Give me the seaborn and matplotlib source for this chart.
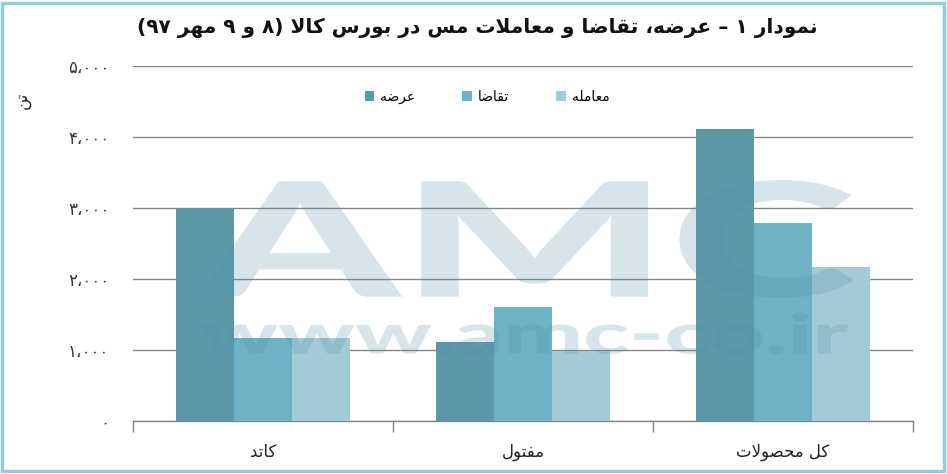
import numpy as np
import pandas as pd
import matplotlib
matplotlib.use('Agg')
import matplotlib.pyplot as plt
import seaborn as sns
from matplotlib.textpath import TextPath
from matplotlib.patches import PathPatch, Rectangle
from matplotlib.font_manager import FontProperties
from matplotlib.transforms import Affine2D

# chart data (logical Persian text)
title = 'نمودار ۱ – عرضه، تقاضا و معاملات مس در بورس کالا (۸ و ۹ مهر ۹۷)'
unit = 'تن'
categories = ['کاتد', 'مفتول', 'کل محصولات']
series = ['عرضه', 'تقاضا', 'معامله']
supply = [3000, 1110, 4110]
demand = [1165, 1605, 2785]
traded = [1165, 990, 2165]
yticks = [0, 1000, 2000, 3000, 4000, 5000]
ytick_labels = ['۰', '۱،۰۰۰', '۲،۰۰۰', '۳،۰۰۰', '۴،۰۰۰', '۵،۰۰۰']
colors = ['#5d98a8', '#6eb3c5', '#a3cbd6']

# matplotlib has no Arabic shaping, so do a small one by hand
FORMS = {  # isolated, final, initial, medial
    'ا': ('\uFE8D', '\uFE8E', None, None),
    'ب': ('\uFE8F', '\uFE90', '\uFE91', '\uFE92'),
    'ت': ('\uFE95', '\uFE96', '\uFE97', '\uFE98'),
    'ح': ('\uFEA1', '\uFEA2', '\uFEA3', '\uFEA4'),
    'د': ('\uFEA9', '\uFEAA', None, None),
    'ر': ('\uFEAD', '\uFEAE', None, None),
    'س': ('\uFEB1', '\uFEB2', '\uFEB3', '\uFEB4'),
    'ص': ('\uFEB9', '\uFEBA', '\uFEBB', '\uFEBC'),
    'ض': ('\uFEBD', '\uFEBE', '\uFEBF', '\uFEC0'),
    'ع': ('\uFEC9', '\uFECA', '\uFECB', '\uFECC'),
    'ف': ('\uFED1', '\uFED2', '\uFED3', '\uFED4'),
    'ق': ('\uFED5', '\uFED6', '\uFED7', '\uFED8'),
    'ل': ('\uFEDD', '\uFEDE', '\uFEDF', '\uFEE0'),
    'م': ('\uFEE1', '\uFEE2', '\uFEE3', '\uFEE4'),
    'ن': ('\uFEE5', '\uFEE6', '\uFEE7', '\uFEE8'),
    'ه': ('\uFEE9', '\uFEEA', '\uFEEB', '\uFEEC'),
    'و': ('\uFEED', '\uFEEE', None, None),
    'ک': ('\uFB8E', '\uFB8F', '\uFB90', '\uFB91'),
    'لا': ('\uFEFB', '\uFEFC', None, None),
}
MIRROR = {'(': ')', ')': '('}


def rtl(text):
    chars = []
    i = 0
    while i < len(text):
        if text[i] == 'ل' and i + 1 < len(text) and text[i + 1] == 'ا':
            chars.append('لا')
            i += 2
        else:
            chars.append(text[i])
            i += 1
    out = []
    for k, c in enumerate(chars):
        if c not in FORMS:
            out.append(MIRROR.get(c, c))
            continue
        prev = chars[k - 1] if k > 0 else None
        nxt = chars[k + 1] if k + 1 < len(chars) else None
        join_prev = prev in FORMS and FORMS[prev][2] is not None
        join_next = FORMS[c][2] is not None and nxt in FORMS
        iso, fin, ini, med = FORMS[c]
        if join_prev and join_next:
            out.append(med)
        elif join_prev:
            out.append(fin)
        elif join_next:
            out.append(ini)
        else:
            out.append(iso)
    # visual order: reverse, but keep digit runs left-to-right
    result, run = [], []
    for c in out[::-1]:
        if c.isdigit():
            run.append(c)
        else:
            result.extend(run[::-1])
            run = []
            result.append(c)
    result.extend(run[::-1])
    return ''.join(result)


W, H = 947, 474
plt.rcParams['font.family'] = ['DejaVu Sans']

df = pd.DataFrame({
    'cat': [rtl(c) for c in categories] * 3,
    'series': np.repeat([rtl(s) for s in series], len(categories)),
    'value': supply + demand + traded,
})

fig, ax = plt.subplots(figsize=(W / 100, H / 100), dpi=100)
fig.subplots_adjust(left=133 / W, right=913 / W, bottom=(H - 421) / H, top=(H - 66) / H)

sns.barplot(data=df, x='cat', y='value', hue='series', palette=colors,
            width=0.67, saturation=1, errorbar=None, ax=ax)
for p in ax.patches:
    p.set_zorder(3)

ax.set_xlim(-0.5, 2.5)
ax.set_ylim(0, 5000)
ax.set_yticks(yticks)
ax.set_yticklabels(ytick_labels, fontsize=12, color='#333333')
ax.tick_params(axis='y', length=0, pad=17)
ax.tick_params(axis='x', which='major', length=0, pad=16, labelsize=12, colors='#222222')
ax.set_xticks([-0.5, 0.5, 1.5, 2.5], minor=True)
ax.tick_params(axis='x', which='minor', length=8, color='#868686', width=1)
ax.set_xlabel('')
ax.set_ylabel('')
ax.grid(axis='y', color='#868686', linewidth=1, zorder=1)
ax.set_axisbelow(True)
for s in ['left', 'top', 'right']:
    ax.spines[s].set_visible(False)
ax.spines['bottom'].set_color('#868686')
ax.spines['bottom'].set_linewidth(1)

handles, labels = ax.get_legend_handles_labels()
ax.get_legend().remove()
fig.legend(handles, labels, loc='center', bbox_to_anchor=(487 / W, 1 - 97 / H),
           ncol=3, frameon=False, fontsize=10, handlelength=0.7, handleheight=0.7,
           handletextpad=0.4, columnspacing=3.4)

fig.text(477 / W, 1 - 28 / H, rtl(title), ha='center', va='center',
         fontsize=14.5, fontweight='bold', color='#111111')
fig.text(22 / W, 1 - 100 / H, rtl(unit), ha='center', va='center',
         rotation=90, fontsize=12, color='#222222')


# faint AMC watermark over the plot
def watermark(txt, box):
    tp = TextPath((0, 0), txt, size=1, prop=FontProperties(family='Lato', weight='black'))
    ext = tp.get_extents()
    x0, y0, x1, y1 = box
    sx = (x1 - x0) / W / ext.width
    sy = (y1 - y0) / H / ext.height
    tr = Affine2D().translate(-ext.x0, -ext.y0).scale(sx, sy).translate(x0 / W, 1 - y1 / H)
    fig.add_artist(PathPatch(tp, transform=tr + fig.transFigure, facecolor='#4a8ca8',
                             edgecolor='none', alpha=0.22, zorder=5))


watermark('AMC', (198, 180, 854, 298))
watermark('www.amc-co.ir', (202, 312, 848, 354))

fig.add_artist(Rectangle((1.5 / W, 3 / H), (944 - 1.5) / W, (471 - 3) / H,
                         transform=fig.transFigure, fill=False,
                         edgecolor='#93cce0', linewidth=2.5, zorder=10))

fig.savefig('out.png', dpi=100)
